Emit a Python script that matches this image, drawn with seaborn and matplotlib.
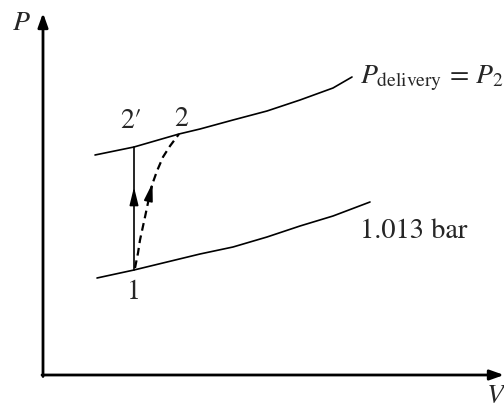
import matplotlib
matplotlib.use("Agg")
import matplotlib.pyplot as plt
import seaborn as sns

sns.set_theme(style="white")
plt.rcParams["mathtext.fontset"] = "stix"
plt.rcParams["font.family"] = ["STIXGeneral", "Liberation Serif", "DejaVu Serif"]

# Isobars (V, P in arbitrary diagram units)
upper_v = [52, 91, 136, 157, 190, 224, 257, 290, 309]
upper_p = [220, 228, 241, 246, 255, 264, 275, 287, 298]
lower_v = [54, 91, 157, 190, 224, 257, 290, 327]
lower_p = [97, 105, 121, 128, 138, 149, 159, 173]

# State points
state_v = {"1": 91, "2'": 91, "2": 136}
state_p = {"1": 105, "2'": 228, "2": 241}

# Actual (irreversible) compression path 1 -> 2
actual_v = [92, 95, 97, 102, 106, 109, 114, 120, 127, 136]
actual_p = [107, 122, 135, 158, 177, 190, 204, 218, 229, 241]

fig = plt.figure(figsize=(5.04, 4.05), dpi=100)
ax = fig.add_axes([0, 0, 1, 1])
ax.set_xlim(-43, 461)
ax.set_ylim(-30, 375)
ax.axis("off")

line_kw = dict(color="black", sort=False, estimator=None, legend=False, ax=ax)
sns.lineplot(x=upper_v, y=upper_p, linewidth=1.2, **line_kw)
sns.lineplot(x=lower_v, y=lower_p, linewidth=1.2, **line_kw)
sns.lineplot(x=[state_v["1"], state_v["2'"]], y=[state_p["1"], state_p["2'"]],
             linewidth=1.2, **line_kw)
sns.lineplot(x=actual_v, y=actual_p, linewidth=1.6, linestyle=(0, (3.5, 2.2)), **line_kw)

# Coordinate axes with arrowheads
axis_arrow = dict(arrowstyle="-|>,head_length=0.7,head_width=0.25",
                  color="black", lw=2, shrinkA=0, shrinkB=0)
ax.annotate("", xy=(0, 362), xytext=(0, -1.5), arrowprops=axis_arrow)
ax.annotate("", xy=(461, 0), xytext=(-1, 0), arrowprops=axis_arrow)

# Direction arrows on the compression paths
path_arrow = dict(arrowstyle="-|>,head_length=0.9,head_width=0.22",
                  color="black", lw=1.2, shrinkA=0, shrinkB=0)
ax.annotate("", xy=(91, 188), xytext=(91, 175), arrowprops=path_arrow)
ax.annotate("", xy=(109.5, 192), xytext=(106.3, 178), arrowprops=path_arrow)

fs = 20
ax.text(-22, 352, "$P$", fontsize=fs, ha="center", va="center")
ax.text(454, -21, "$V$", fontsize=fs, ha="center", va="center")
ax.text(88, 254, "2\u2032", fontsize=fs, ha="center", va="center")
ax.text(138, 256, "2", fontsize=fs, ha="center", va="center")
ax.text(91, 83, "1", fontsize=fs, ha="center", va="center")
ax.text(317, 297, r"$P_{\mathrm{delivery}}\,=\,P_2$", fontsize=fs, ha="left", va="center")
ax.text(317, 144, "1.013 bar", fontsize=20.5, ha="left", va="center")

fig.savefig("out.png", dpi=100, facecolor="white")
